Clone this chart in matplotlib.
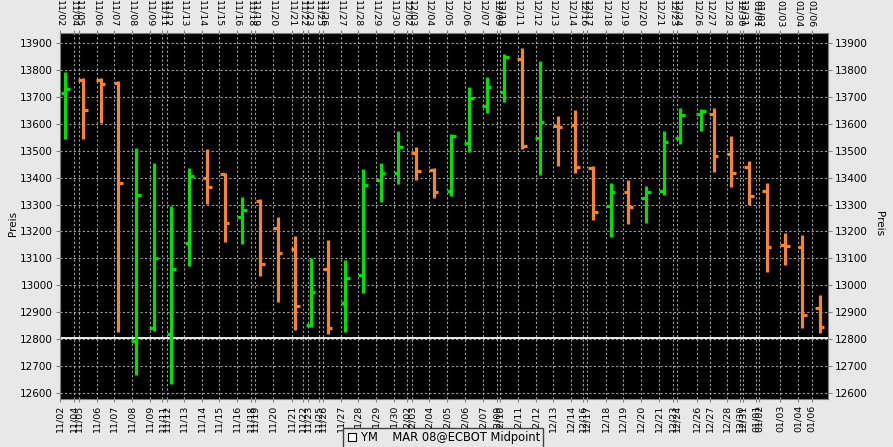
import matplotlib
matplotlib.use('Agg')
import matplotlib.pyplot as plt
from matplotlib.lines import Line2D

# session position of each bar on the (segmented) time axis
bar_pos = [0.28, 1.29, 2.30, 3.30, 4.30, 5.31, 6.31, 7.33, 8.34, 9.34, 10.32, 11.35, 12.35, 13.34,
           14.22, 15.19, 16.18, 17.20, 18.20, 19.20, 20.21, 21.22, 22.22, 23.22, 24.23, 25.23, 26.23,
           27.24, 28.26, 29.26, 30.27, 31.27, 32.27, 33.28, 34.28, 35.21, 36.40, 37.12, 38.13, 39.13,
           40.14, 41.18, 42.17, 43.16]
opens = [13714, 13764, 13764, 13753, 12793, 12841, 12818, 13158, 13397, 13412, 13254, 13315, 13212, 13133,
         12852, 13060, 12934, 13038, 13392, 13418, 13490, 13427, 13350, 13529, 13666, 13719, 13842, 13549,
         13592, 13596, 13437, 13295, 13345, 13324, 13351, 13549, 13636, 13636, 13487, 13438, 13349, 13150,
         13143, 12914]
highs = [13792, 13770, 13771, 13759, 13511, 13454, 13294, 13437, 13507, 13418, 13329, 13321, 13253, 13184,
         13101, 13168, 13094, 13433, 13454, 13574, 13515, 13435, 13564, 13738, 13775, 13859, 13884, 13834,
         13629, 13652, 13444, 13382, 13392, 13370, 13574, 13658, 13657, 13658, 13554, 13461, 13382, 13195,
         13187, 12964]
lows = [13542, 13542, 13604, 12826, 12668, 12831, 12634, 13071, 13301, 13159, 13155, 13036, 12936, 12832,
        12846, 12819, 12826, 12971, 13311, 13377, 13391, 13326, 13332, 13497, 13640, 13681, 13508, 13411,
        13442, 13419, 13244, 13179, 13227, 13231, 13334, 13527, 13575, 13420, 13367, 13299, 13050, 13075,
        12840, 12821]
closes = [13728, 13653, 13750, 13381, 13334, 13102, 13059, 13406, 13367, 13232, 13278, 13080, 13119, 12924,
          12975, 12840, 13027, 13373, 13417, 13513, 13423, 13346, 13556, 13696, 13738, 13848, 13517, 13606,
          13588, 13439, 13274, 13345, 13290, 13347, 13532, 13634, 13648, 13479, 13418, 13330, 13143, 13145,
          12888, 12843]

tick_labels = ['11/02', '11/04', '11/05', '11/06', '11/07', '11/08', '11/09', '11/11', '11/12', '11/13',
               '11/14', '11/15', '11/16', '11/18', '11/19', '11/20', '11/21', '11/22', '11/23', '11/25',
               '11/26', '11/27', '11/28', '11/29', '11/30', '12/02', '12/03', '12/04', '12/05', '12/06',
               '12/07', '12/09', '12/10', '12/11', '12/12', '12/13', '12/14', '12/16', '12/17', '12/18',
               '12/19', '12/20', '12/21', '12/23', '12/24', '12/26', '12/27', '12/28', '12/30', '12/31',
               '01/01', '01/02', '01/03', '01/04', '01/06']
tick_pos = [0.0, 0.78, 1.08, 2.07, 3.07, 4.09, 5.08, 5.80, 6.05, 7.03, 8.03, 9.03, 10.06, 10.82, 11.06,
            12.10, 13.15, 13.81, 14.09, 14.72, 14.94, 15.93, 16.93, 17.94, 18.96, 19.72, 19.97, 20.97,
            21.99, 22.98, 24.0, 24.8, 24.98, 25.99, 27.01, 28.01, 29.02, 29.72, 29.94, 31.0, 31.99, 32.99,
            34.03, 34.83, 35.06, 36.16, 36.91, 37.86, 38.62, 38.81, 39.53, 39.72, 40.89, 41.93, 42.69]
price_ticks = [12600, 12700, 12800, 12900, 13000, 13100, 13200, 13300, 13400, 13500, 13600, 13700, 13800, 13900]
last_price = 12805
legend_label = 'YM    MAR 08@ECBOT Midpoint'

bg = '#e8e8e8'
up_color = '#00e000'
down_color = '#f5852e'

fig = plt.figure(figsize=(8.93, 4.47), dpi=100, facecolor=bg)
ax = fig.add_axes([0.0672, 0.1074, 0.86, 0.8188])
ax.set_facecolor('black')

colors = [up_color if c >= o else down_color for o, c in zip(opens, closes)]
w = 0.26
ax.vlines(bar_pos, lows, highs, colors=colors, linewidth=2.3, zorder=3)
ax.hlines(opens, [p - w for p in bar_pos], bar_pos, colors=colors, linewidth=2.3, zorder=3)
ax.hlines(closes, bar_pos, [p + w for p in bar_pos], colors=colors, linewidth=2.3, zorder=3)

ax.axhline(last_price, color='white', linewidth=1.3, zorder=2)

ax.set_xlim(-0.02, 43.62)
ax.set_ylim(12577, 13938)
ax.set_xticks(tick_pos)
ax.set_xticklabels(tick_labels)
ax.set_yticks(price_ticks)
ax.grid(True, color='#a0a0a0', linestyle=(0, (2, 2)), linewidth=0.8, zorder=1)

ax.tick_params(axis='x', top=True, labeltop=True, bottom=True, labelbottom=True,
               labelsize=6.8, length=2, color='#808080', pad=2)
ax.tick_params(axis='y', left=True, right=True, labelleft=True, labelright=True,
               labelsize=7.5, length=3, color='#808080', pad=2)
for t in ax.xaxis.get_major_ticks():
    t.label1.set_rotation(90)
    t.label2.set_rotation(270)
for s in ax.spines.values():
    s.set_color('#808080')

fig.text(0.009, 0.5, 'Preis', rotation=90, va='center', ha='left', fontsize=7.5)
fig.text(0.99, 0.5, 'Preis', rotation=270, va='center', ha='right', fontsize=7.5)

handle = Line2D([], [], marker='s', linestyle='none', markersize=6,
                markerfacecolor='white', markeredgecolor='black', markeredgewidth=0.8)
leg = fig.legend([handle], [legend_label], loc='upper center', bbox_to_anchor=(0.4966, 0.0425),
                 fontsize=8.3, frameon=True, fancybox=False, edgecolor='#404040', facecolor=bg,
                 framealpha=1, handlelength=0.8, handletextpad=0.4, borderpad=0.3, borderaxespad=0)
leg.get_frame().set_linewidth(1.0)

fig.savefig('out.png', dpi=100, facecolor=bg)
